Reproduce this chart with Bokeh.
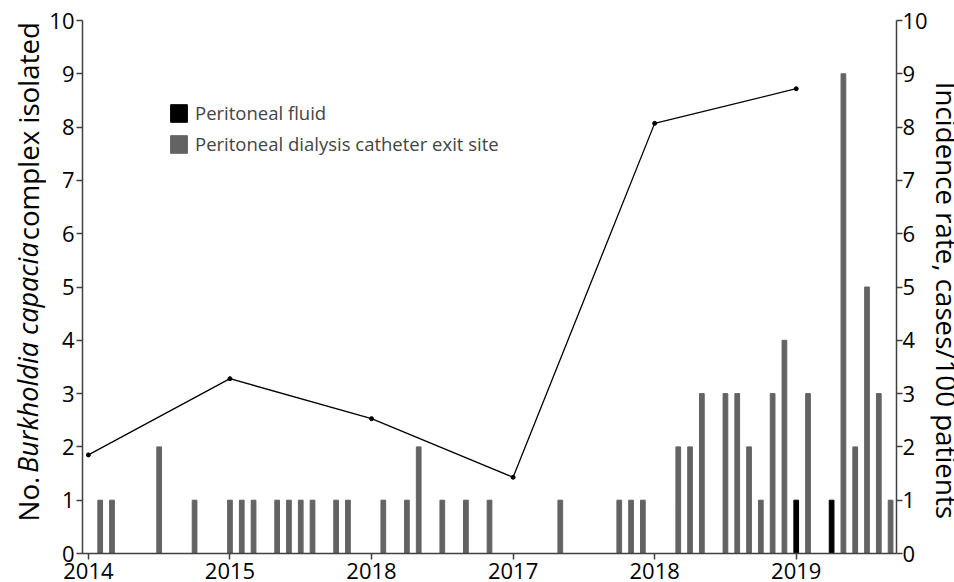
import math
from bokeh.plotting import figure
from bokeh.layouts import row
from bokeh.models import (Range1d, LinearAxis, FixedTicker, Legend, LegendItem)
from bokeh.core.properties import value
from bokeh.embed import file_html
from bokeh.resources import INLINE

# ---------------- data ----------------
tick_months = [0, 12, 24, 36, 48, 60]
tick_labels = ["2014", "2015", "2018", "2017", "2018", "2019"]
y_ticks = [0, 1, 2, 3, 4, 5, 6, 7, 8, 9, 10]

exit_site_months = [1, 2, 6, 9, 12, 13, 14, 16, 17, 18, 19, 21, 22, 25, 27, 28,
                    30, 32, 34, 40, 45, 46, 47, 50, 51, 52, 54, 55, 56, 57, 58,
                    59, 61, 64, 65, 66, 67, 68]
exit_site_counts = [1, 1, 2, 1, 1, 1, 1, 1, 1, 1, 1, 1, 1, 1, 1, 2,
                    1, 1, 1, 1, 1, 1, 1, 2, 2, 3, 3, 3, 2, 1, 3,
                    4, 3, 9, 2, 5, 3, 1]
fluid_months = [60, 63]
fluid_counts = [1, 1]

rate_months = [0, 12, 24, 36, 48, 60]
rate_values = [1.85, 3.28, 2.53, 1.43, 8.07, 8.72]

left_title_parts = ["No.", "Burkholdia capacia", "complex isolated"]
left_title_styles = ["normal", "italic", "normal"]
right_title = "Incidence rate, cases/100 patients"

# ---------------- styling ----------------
FONT = "Open Sans"
AXIS_COLOR = "#404040"
GREY = "#636363"
TOTAL_H = 582
LEFT_W = 46
RIGHT_W = 24


def strip(width):
    f = figure(width=width, height=TOTAL_H, output_backend="svg",
               toolbar_location=None, x_range=Range1d(0, width),
               y_range=Range1d(0, TOTAL_H), x_axis_location=None,
               y_axis_location=None, min_border=0, min_border_left=0,
               min_border_right=0, min_border_top=0, min_border_bottom=0)
    f.outline_line_color = None
    f.xgrid.grid_line_color = None
    f.ygrid.grid_line_color = None
    return f


# ---- left strip: mixed-style axis title (pixel layout inside the strip) ----
pt = strip(LEFT_W)
# (x anchor, y start from bottom, font size) for each piece; all start-aligned
piece_layout = [(27, 35, "27.7px"), (27, 88, "27px"), (27, 342, "27.7px")]
for txt, style, (bx, by, fs) in zip(left_title_parts, left_title_styles,
                                     piece_layout):
    pt.text(x=[bx], y=[by], text=[txt], angle=math.pi / 2,
            text_align="left", text_baseline="alphabetic",
            text_font=value(FONT), text_font_size=value(fs),
            text_font_style=style, text_color="black")

# ---- right strip: right axis title (reads top to bottom) ----
pr = strip(RIGHT_W)
pr.text(x=[16], y=[515], text=[right_title], angle=-math.pi / 2,
        text_align="left", text_baseline="alphabetic",
        text_font=value(FONT), text_font_size=value("27.7px"),
        text_color="black")

# ---- main chart ----
p = figure(width=954 - LEFT_W - RIGHT_W, height=TOTAL_H, output_backend="svg",
           toolbar_location=None,
           x_range=Range1d(-0.5, 68.5), y_range=Range1d(0, 10),
           min_border_left=81 - LEFT_W, min_border_right=31, min_border_top=20,
           min_border_bottom=29)
p.outline_line_color = None
p.xgrid.grid_line_color = None
p.ygrid.grid_line_color = None

grey_r = p.vbar(x=exit_site_months, top=exit_site_counts, width=0.4,
                fill_color=GREY, line_color=GREY)
black_r = p.vbar(x=fluid_months, top=fluid_counts, width=0.4,
                 fill_color="black", line_color="black")

p.extra_y_ranges = {"rate": Range1d(0, 10)}
p.line(rate_months, rate_values, y_range_name="rate", line_color="black",
       line_width=1.3)
p.scatter(rate_months, rate_values, y_range_name="rate", size=4,
          fill_color="black", line_color="black")

right_axis = LinearAxis(y_range_name="rate")
p.add_layout(right_axis, "right")


def style_axis(ax, ticks):
    ax.ticker = FixedTicker(ticks=ticks)
    ax.axis_line_color = AXIS_COLOR
    ax.axis_line_width = 1.5
    ax.major_tick_line_color = AXIS_COLOR
    ax.major_tick_line_width = 1.5
    ax.major_tick_out = 6
    ax.major_tick_in = 0
    ax.minor_tick_line_color = None
    ax.major_label_text_font = FONT
    ax.major_label_text_font_size = "22px"
    ax.major_label_text_color = "black"
    ax.axis_label = None


style_axis(p.yaxis[0], y_ticks)
style_axis(right_axis, y_ticks)
style_axis(p.xaxis[0], tick_months)
p.xaxis[0].major_label_overrides = dict(zip(tick_months, tick_labels))
p.xaxis[0].major_label_standoff = 3
p.yaxis[0].major_label_standoff = 2
right_axis.major_label_standoff = 0

# ---------------- legend ----------------
legend = Legend(items=[LegendItem(label="Peritoneal fluid", renderers=[black_r]),
                       LegendItem(label="Peritoneal dialysis catheter exit site",
                                  renderers=[grey_r])],
                location=(86, 397), padding=0, margin=0, spacing=6,
                glyph_width=21, glyph_height=22, label_height=22,
                label_standoff=6, label_text_font=FONT,
                label_text_font_size="18.5px", border_line_color=None,
                background_fill_alpha=0)
p.add_layout(legend)

layout = row(pt, p, pr, spacing=0)
open("out.html", "w").write(file_html(layout, INLINE))
